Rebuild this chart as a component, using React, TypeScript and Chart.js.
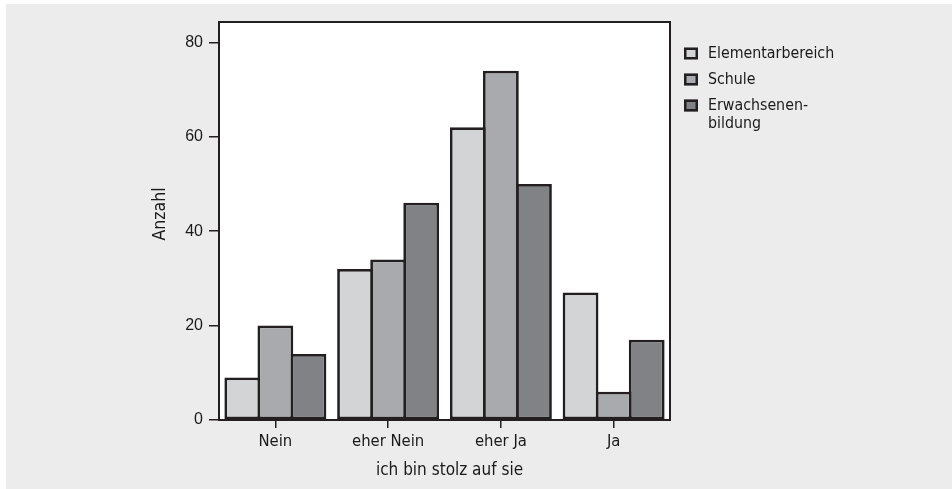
import React, { useEffect, useRef } from "react";
import { Chart, registerables } from "chart.js";

Chart.register(...registerables);

const categories = ["Nein", "eher Nein", "eher Ja", "Ja"];
const seriesNames = ["Elementarbereich", "Schule", "Erwachsenen-\nbildung"];
const elementarbereich = [9, 32, 62, 27];
const schule = [20, 34, 74, 6];
const erwachsenenbildung = [14, 46, 50, 17];
const yTicks = [0, 20, 40, 60, 80];
const xTitle = "ich bin stolz auf sie";
const yTitle = "Anzahl";

const COLORS = ["#d3d4d6", "#a9aaad", "#818286"];
const INK = "#231f20";
const TEXT_FONT = "'DejaVu Sans Condensed', 'DejaVu Sans', sans-serif";
const NUM_FONT = "'Liberation Sans', Arial, sans-serif";

const framePlugin = {
  id: "frame",
  beforeDatasetsDraw(chart: any) {
    const { ctx, chartArea: a } = chart;
    ctx.save();
    ctx.fillStyle = "#ffffff";
    ctx.fillRect(a.left, a.top, a.right - a.left, a.bottom - a.top);
    ctx.strokeStyle = INK;
    ctx.lineWidth = 2;
    ctx.strokeRect(a.left, a.top, a.right - a.left, a.bottom - a.top);
    ctx.restore();
  },
  afterDraw(chart: any) {
    const { ctx, chartArea: a } = chart;
    ctx.save();
    ctx.fillStyle = "#1a1a1a";
    // x axis title
    ctx.font = `17px ${TEXT_FONT}`;
    ctx.textAlign = "center";
    ctx.textBaseline = "middle";
    ctx.fillText(xTitle, (a.left + a.right) / 2 + 5, 470.5);
    // y axis title
    ctx.font = `17.5px ${TEXT_FONT}`;
    ctx.translate(160, 214);
    ctx.rotate(-Math.PI / 2);
    ctx.fillText(yTitle, 0, 0);
    ctx.restore();

    // legend
    ctx.save();
    const boxX = a.right + 14;
    const textX = a.right + 38;
    let y = 53.5;
    chart.data.datasets.forEach((ds: any) => {
      ctx.fillStyle = ds.backgroundColor;
      ctx.fillRect(boxX, y - 6, 14, 12);
      ctx.strokeStyle = INK;
      ctx.lineWidth = 2.5;
      ctx.strokeRect(boxX + 1.25, y - 4.75, 11.5, 9.5);
      ctx.fillStyle = "#1a1a1a";
      ctx.font = `15.8px ${TEXT_FONT}`;
      ctx.textAlign = "left";
      ctx.textBaseline = "middle";
      const lines = String(ds.label).split("\n");
      lines.forEach((ln: string, k: number) => {
        ctx.fillText(ln, textX, y + k * 18);
      });
      y += 26 + (lines.length - 1) * 18;
    });
    ctx.restore();
  },
};

export default function App() {
  const ref = useRef<HTMLCanvasElement | null>(null);

  useEffect(() => {
    if (!ref.current) return;
    const values = [elementarbereich, schule, erwachsenenbildung];
    const chart = new Chart(ref.current, {
      type: "bar",
      data: {
        labels: categories,
        datasets: values.map((v, i) => ({
          label: seriesNames[i],
          data: v,
          backgroundColor: COLORS[i],
          borderColor: INK,
          borderWidth: 2.75,
          borderSkipped: false,
          inflateAmount: 0,
          categoryPercentage: 0.88,
          barPercentage: 1.083,
        })),
      },
      options: {
        animation: false,
        responsive: false,
        devicePixelRatio: 1,
        layout: { padding: { left: 0, right: 282, top: 22, bottom: 0 } },
        plugins: {
          legend: { display: false },
          tooltip: { enabled: false },
        },
        scales: {
          x: {
            grid: {
              display: true,
              offset: false,
              drawOnChartArea: false,
              drawTicks: true,
              tickLength: 8,
              color: INK,
              lineWidth: 1.5,
            },
            border: { display: false },
            ticks: {
              color: "#1a1a1a",
              font: { family: TEXT_FONT, size: 16.5 },
              padding: 4,
              maxRotation: 0,
            },
            title: { display: false },
            afterFit(scale: any) {
              scale.height = 69;
            },
          },
          y: {
            min: 0,
            max: 84.3,
            grid: {
              display: true,
              drawOnChartArea: false,
              drawTicks: true,
              tickLength: 10,
              color: INK,
              lineWidth: 1.5,
            },
            border: { display: false },
            ticks: {
              color: "#1a1a1a",
              font: { family: NUM_FONT, size: 16 },
              padding: 6,
            },
            afterBuildTicks(scale: any) {
              scale.ticks = yTicks.map((v) => ({ value: v }));
            },
            afterFit(scale: any) {
              scale.width = 219;
            },
          },
        },
      },
      plugins: [framePlugin],
    });
    return () => chart.destroy();
  }, []);

  return (
    <div style={{ position: "absolute", left: 0, top: 0, width: 952, height: 489, background: "#ffffff" }}>
      <div style={{ position: "absolute", left: 6, top: 4, right: 0, bottom: 0, background: "#ececec" }} />
      <canvas ref={ref} width={952} height={489} style={{ position: "absolute", left: 0, top: 0, width: 952, height: 489 }} />
    </div>
  );
}
